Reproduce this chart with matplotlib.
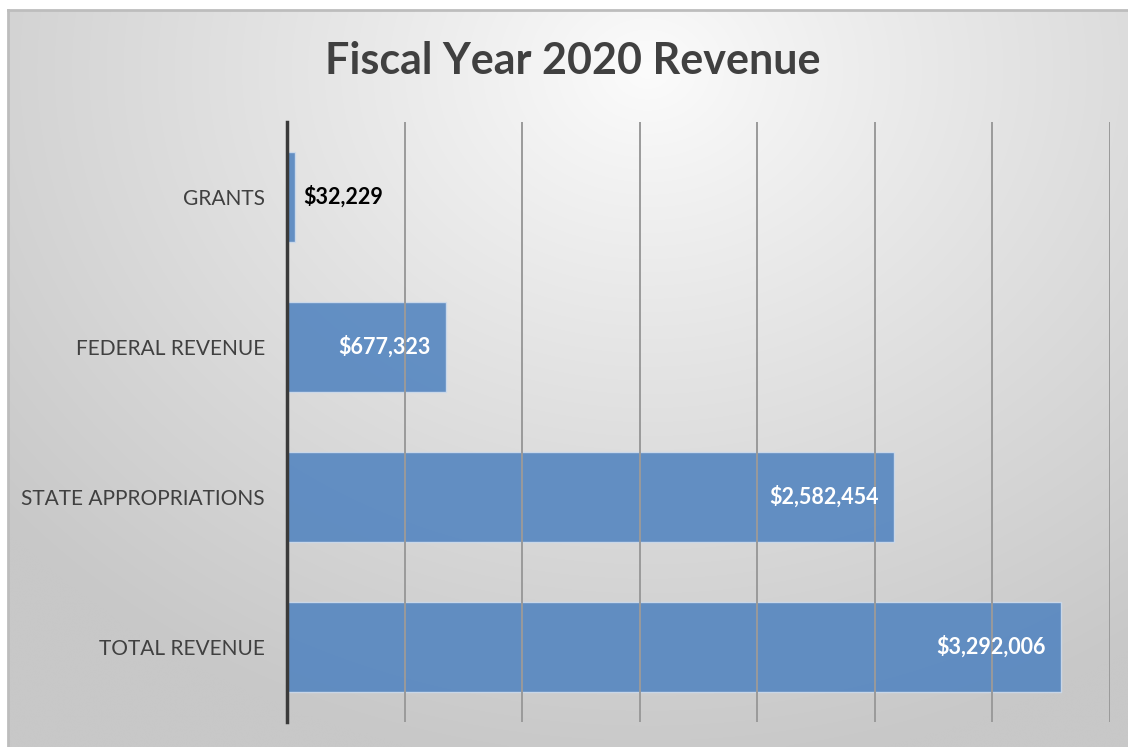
import matplotlib

matplotlib.use("Agg")

import matplotlib.pyplot as plt
import numpy as np
from matplotlib.ticker import MultipleLocator

categories = ["GRANTS", "FEDERAL REVENUE", "STATE APPROPRIATIONS", "TOTAL REVENUE"]
values = [32229, 677323, 2582454, 3292006]
label_inside = [False, True, True, True]

plt.rcParams["font.family"] = ["Lato", "DejaVu Sans"]

fig = plt.figure(figsize=(11.28, 7.47), dpi=100)
fig.patch.set_facecolor("white")

# gradient background panel
bg = fig.add_axes([8 / 1128, 0, 1 - 8 / 1128, 1 - 10 / 747])
bg.set_axis_off()
h, w = 300, 450
yy, xx = np.mgrid[0:h, 0:w]
cx, cy = 0.57 * w, 0.08 * h
d = np.sqrt(((xx - cx) / (0.75 * w)) ** 2 + ((yy - cy) / (0.95 * h)) ** 2)
shade = 252 - 52 * np.clip(d, 0, 1) ** 0.9
img = np.dstack([shade, shade, shade]) / 255.0
bg.imshow(img, aspect="auto", extent=[0, 1, 0, 1], interpolation="bicubic")
bg.plot([0, 0], [0, 1], color="#bdbdbd", lw=2, transform=bg.transAxes, clip_on=False)
bg.plot([0, 1], [1, 1], color="#bdbdbd", lw=2, transform=bg.transAxes, clip_on=False)

ax = fig.add_axes([287 / 1128, 25 / 747, (1110 - 287) / 1128, 600 / 747])
ax.patch.set_alpha(0)

y = np.arange(len(categories))
bars = ax.barh(y, values, height=0.6, color="#5586c0", alpha=0.9,
               edgecolor="#cfdcec", linewidth=1.0, zorder=2)

ax.set_xlim(0, 3500000)
ax.set_ylim(3.5, -0.5)
ax.xaxis.set_major_locator(MultipleLocator(500000))
ax.grid(axis="x", color="#9a9a9a", linewidth=1.4, zorder=3)
ax.set_axisbelow(False)
ax.set_xticklabels([])
ax.tick_params(axis="x", length=0)
ax.set_yticks(y)
ax.set_yticklabels(categories, fontsize=15, color="#404040")
ax.tick_params(axis="y", length=0, pad=16)

for s in ["top", "right", "bottom"]:
    ax.spines[s].set_visible(False)
ax.spines["left"].set_color("#3a3a3a")
ax.spines["left"].set_linewidth(2.5)
ax.spines["left"].set_zorder(5)

for yi, v, inside in zip(y, values, label_inside):
    text = f"${v:,.0f}"
    if inside:
        ax.annotate(text, (v, yi), xytext=(-11, 0), textcoords="offset points",
                    ha="right", va="center", fontsize=15.5, fontweight="bold",
                    color="white", zorder=6)
    else:
        ax.annotate(text, (v, yi), xytext=(6, 0), textcoords="offset points",
                    ha="left", va="center", fontsize=15.5, fontweight="bold",
                    color="black", zorder=6)

fig.text(573 / 1128, 1 - 61 / 747, "Fiscal Year 2020 Revenue", ha="center", va="center",
         fontsize=31, fontweight="bold", color="#404040")

fig.savefig("out.png", dpi=100)
